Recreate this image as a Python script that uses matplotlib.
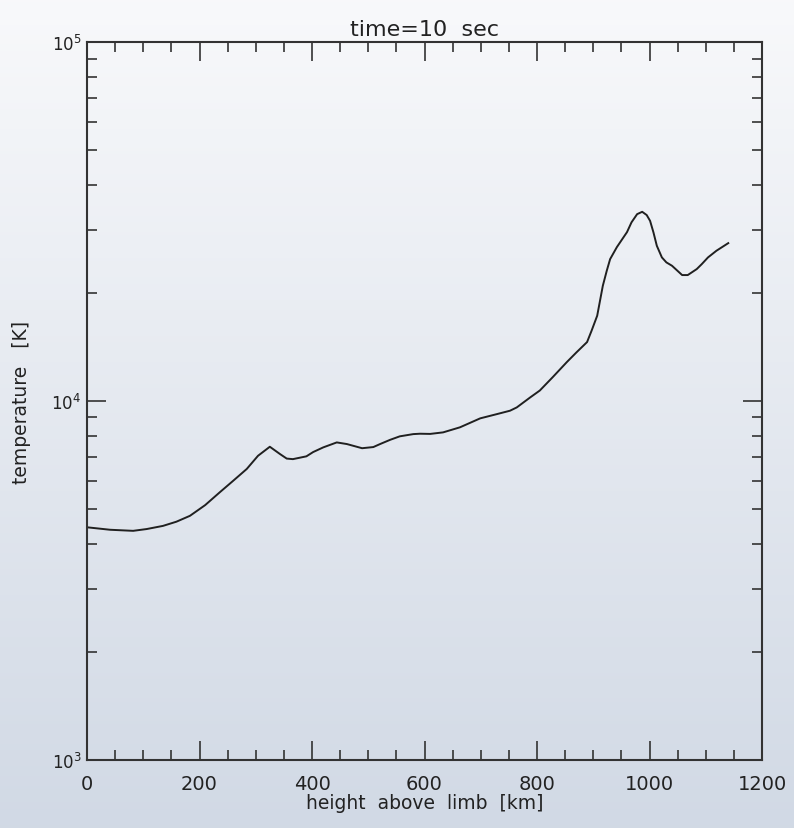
import numpy as np
import matplotlib.pyplot as plt
from matplotlib.ticker import LogLocator, MultipleLocator, FixedLocator

# height above limb [km] and temperature [K]
height = [0, 41, 82, 106, 135, 159, 183, 210, 236, 260, 284, 304, 325, 343,
          355, 366, 390, 402, 420, 444, 462, 489, 509, 521, 539, 556, 580,
          592, 610, 633, 663, 699, 729, 752, 764, 788, 805, 828, 853, 870,
          889, 897, 907, 912, 917, 924, 930, 942, 960, 968, 978, 987, 995,
          1001, 1007, 1013, 1022, 1030, 1040, 1058, 1068, 1084, 1093, 1104,
          1119, 1140]
temperature = [4450, 4380, 4350, 4400, 4490, 4613, 4790, 5130, 5570, 6000,
               6470, 7040, 7460, 7120, 6915, 6890, 7015, 7210, 7430, 7670,
               7590, 7390, 7445, 7590, 7800, 7975, 8090, 8110, 8100, 8180,
               8450, 8950, 9200, 9400, 9600, 10240, 10700, 11660, 12840,
               13660, 14600, 15700, 17290, 19030, 20950, 23070, 24860, 26850,
               29560, 31470, 33170, 33670, 32980, 31780, 29510, 27080, 25130,
               24340, 23820, 22440, 22440, 23320, 24080, 25130, 26230, 27540]

fig = plt.figure(figsize=(7.94, 8.29), dpi=100)

# soft vertical background gradient
bg = fig.add_axes([0, 0, 1, 1], zorder=-10)
grad = np.linspace(0, 1, 256).reshape(-1, 1)
top = np.array([0.973, 0.976, 0.984])
bot = np.array([0.820, 0.851, 0.898])
img = top + (bot - top) * grad[:, :, None]
bg.imshow(img, aspect="auto", extent=[0, 1, 0, 1])
bg.axis("off")

ax = fig.add_axes([0.1096, 0.082, 0.8501, 0.866])
ax.patch.set_alpha(0)
ax.plot(height, temperature, color="#202020", lw=1.4,
        solid_joinstyle="round")

ax.set_yscale("log")
ax.set_xlim(0, 1200)
ax.set_ylim(1e3, 1e5)

ax.xaxis.set_major_locator(MultipleLocator(200))
ax.xaxis.set_minor_locator(MultipleLocator(50))
ax.yaxis.set_major_locator(FixedLocator([1e3, 1e4, 1e5]))
ax.yaxis.set_minor_locator(LogLocator(base=10, subs=np.arange(2, 10)))
ax.yaxis.set_minor_formatter(plt.NullFormatter())
ax.set_yticklabels([r"$10^3$", r"$10^4$", r"$10^5$"])

ax.tick_params(which="both", direction="in", top=True, right=True,
               color="#333333", width=1.2)
ax.tick_params(which="major", length=14, labelsize=14, labelcolor="#222222")
ax.tick_params(which="minor", length=7)
ax.tick_params(axis="x", pad=10)
ax.tick_params(axis="y", pad=4, labelsize=12)
for s in ax.spines.values():
    s.set_linewidth(1.5)
    s.set_color("#333333")

ax.set_xlabel("height  above  limb  [km]", fontsize=13.5, color="#222222",
              labelpad=0)
ax.set_ylabel("temperature   [K]", fontsize=13.5, color="#222222")
ax.yaxis.set_label_coords(-0.083, 0.5)
ax.set_title("time=10  sec", fontsize=16, color="#222222", pad=5)

fig.savefig("out.png", dpi=100)
